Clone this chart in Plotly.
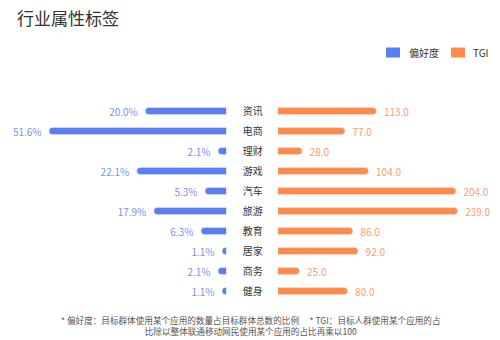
import numpy as np
import plotly.graph_objects as go

categories = ["资讯", "电商", "理财", "游戏", "汽车", "旅游", "教育", "居家", "商务", "健身"]
preference = [20.0, 51.6, 2.1, 22.1, 5.3, 17.9, 6.3, 1.1, 2.1, 1.1]
tgi = [113.0, 77.0, 28.0, 104.0, 204.0, 239.0, 86.0, 92.0, 25.0, 80.0]
series_names = ["偏好度", "TGI"]

PREF_MAX = 43.7
TGI_MAX = 206.0

BLUE = "#5b7ef2"
ORANGE = "#ff8a4c"
FONT = "Noto Sans CJK SC"

pref_disp = np.minimum(preference, PREF_MAX)
tgi_disp = np.minimum(tgi, TGI_MAX)

fig = go.Figure()
fig.add_trace(go.Bar(
    name=series_names[0], y=categories, x=pref_disp, orientation="h",
    xaxis="x", yaxis="y", marker=dict(color=BLUE, cornerradius=4),
    text=[f"{v:.1f}%  " for v in preference], textposition="outside",
    constraintext="none",
    outsidetextfont=dict(color="#7d92f3", size=10, family=FONT),
    cliponaxis=False, width=0.36, hoverinfo="skip",
))
fig.add_trace(go.Bar(
    name=series_names[1], y=categories, x=tgi_disp, orientation="h",
    xaxis="x2", yaxis="y2", marker=dict(color=ORANGE, cornerradius=4),
    text=[f"  {v:.1f}" for v in tgi], textposition="outside",
    constraintext="none",
    outsidetextfont=dict(color="#fb9d73", size=10, family=FONT),
    cliponaxis=False, width=0.36, hoverinfo="skip",
))

W, H = 500, 340
def px(x):
    return x / W
def py(y):
    return 1 - y / H

ydom = [py(301), py(101)]

legend_shapes = []
legend_annots = []
for (x0, x1, tx), color, name in zip([(386, 400, 407), (451, 465, 471)], [BLUE, ORANGE], series_names):
    legend_shapes.append(dict(type="rect", xref="paper", yref="paper",
                              x0=px(x0), x1=px(x1), y0=py(57.5), y1=py(47.5),
                              fillcolor=color, line=dict(width=0)))
    legend_annots.append(dict(text=name, x=px(tx), y=py(52.5), xref="paper", yref="paper",
                              xanchor="left", yanchor="middle", showarrow=False,
                              font=dict(size=10, color="#333", family=FONT)))

fig.update_layout(
    width=W, height=H,
    margin=dict(l=0, r=0, t=0, b=0),
    paper_bgcolor="white", plot_bgcolor="white",
    font=dict(family=FONT, size=10, color="#333"),
    showlegend=False,
    xaxis=dict(domain=[px(49), px(226.5)], range=[PREF_MAX, 0], visible=False),
    xaxis2=dict(domain=[px(277.7), px(457.7)], range=[0, TGI_MAX], visible=False),
    yaxis=dict(domain=ydom, anchor="x", autorange="reversed", visible=False,
               type="category", categoryorder="array", categoryarray=categories),
    yaxis2=dict(domain=ydom, anchor="x2", autorange="reversed", type="category",
                categoryorder="array", categoryarray=categories,
                showgrid=False, zeroline=False, showline=False, ticks="",
                ticklabelstandoff=14, tickfont=dict(size=10, color="#333", family=FONT)),
    bargap=0.6,
    shapes=legend_shapes,
    annotations=[
        dict(text="行业属性标签", x=px(15), y=py(17), xref="paper", yref="paper",
             xanchor="left", yanchor="middle", showarrow=False,
             font=dict(size=17, color="#333", family=FONT)),
        dict(text="* 偏好度：目标群体使用某个应用的数量占目标群体总数的比例　 * TGI：目标人群使用某个应用的占<br>比除以整体联通移动网民使用某个应用的占比再乘以100",
             x=px(251), y=py(325), xref="paper", yref="paper",
             xanchor="center", yanchor="middle", showarrow=False, align="center",
             font=dict(size=8.6, color="#555", family=FONT)),
    ] + legend_annots,
)

fig.write_html("out.html")
